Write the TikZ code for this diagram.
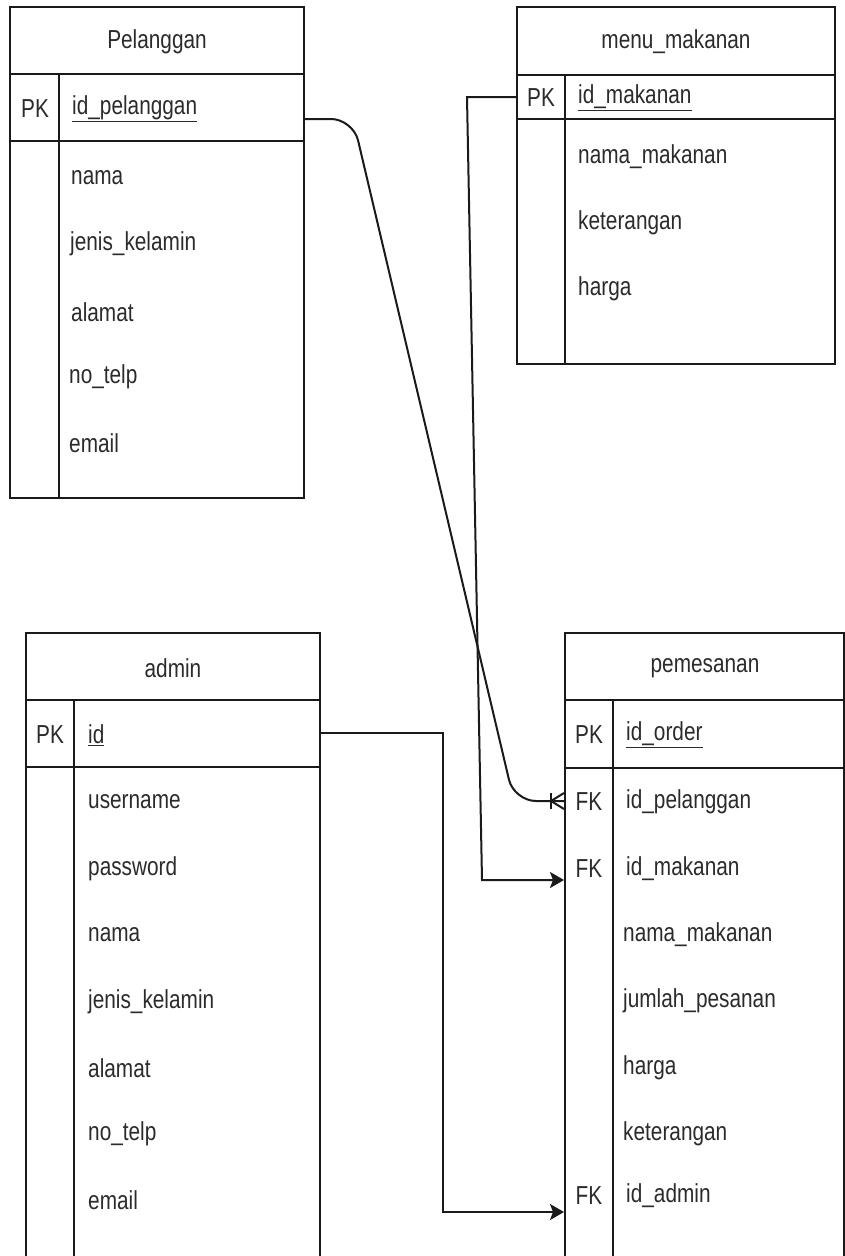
\documentclass[tikz,border=0pt]{standalone}
\usepackage{fontspec}
\setmainfont{Liberation Sans}[FakeStretch=0.8]
\usetikzlibrary{arrows.meta}
\definecolor{lnc}{HTML}{1A1A1A}
\definecolor{txc}{HTML}{2B2B2B}
\tikzset{
  tline/.style={draw=lnc, line width=2.2pt},
  conn/.style={draw=lnc, line width=2pt},
  arr/.style={-{Stealth[length=14pt,width=16pt,inset=3pt]}},
  lbl/.style={text=txc, font=\fontsize{26}{30}\selectfont, inner sep=0pt, anchor=west},
  ttl/.style={text=txc, font=\fontsize{26}{30}\selectfont, inner sep=0pt},
}
\begin{document}
\begin{tikzpicture}[x=1pt,y=-1pt]
\useasboundingbox (0,0) rectangle (845,1256);
\clip (0,0) rectangle (845,1256);
\fill[white] (0,0) rectangle (845,1256);

% ---------- Pelanggan ----------
\draw[tline] (10,7) rectangle (304,498);
\draw[tline] (10,74) -- (304,74);
\draw[tline] (10,141) -- (304,141);
\draw[tline] (59,74) -- (59,498);
\node[ttl] (pelT) at (157,42) {Pelanggan};
\node[ttl] (pelPK) at (35,109) {PK};
\node[lbl] (pelId) at (72,109) {\underline{id\_pelanggan}};
\node[lbl] (pel1) at (71,178) {nama};
\node[lbl] (pel2) at (70,244) {jenis\_kelamin};
\node[lbl] (pel3) at (71,312) {alamat};
\node[lbl] (pel4) at (69,377) {no\_telp};
\node[lbl] (pel5) at (69,443) {email};
\coordinate (pelOut) at (304,119);

% ---------- menu_makanan ----------
\draw[tline] (517,7) rectangle (835,364);
\draw[tline] (517,75) -- (835,75);
\draw[tline] (517,119) -- (835,119);
\draw[tline] (565,75) -- (565,364);
\node[ttl] (menT) at (676,42) {menu\_makanan};
\node[ttl] (menPK) at (541,98) {PK};
\node[lbl] (menId) at (578,98) {\underline{id\_makanan}};
\node[lbl] (men1) at (578,157) {nama\_makanan};
\node[lbl] (men2) at (578,223) {keterangan};
\node[lbl] (men3) at (578,289) {harga};
\coordinate (menOut) at (517,97);

% ---------- admin ----------
\draw[tline] (26,633) rectangle (320,1290);
\draw[tline] (26,700) -- (320,700);
\draw[tline] (26,767) -- (320,767);
\draw[tline] (74,700) -- (74,1290);
\node[ttl] (admT) at (173,668) {admin};
\node[ttl] (admPK) at (50,735) {PK};
\node[lbl] (admId) at (88,735) {\underline{id}};
\node[lbl] (adm1) at (88,802) {username};
\node[lbl] (adm2) at (88,869) {password};
\node[lbl] (adm3) at (88,935) {nama};
\node[lbl] (adm4) at (88,1002) {jenis\_kelamin};
\node[lbl] (adm5) at (88,1068) {alamat};
\node[lbl] (adm6) at (88,1134) {no\_telp};
\node[lbl] (adm7) at (88,1200) {email};
\coordinate (admOut) at (320,733);

% ---------- pemesanan ----------
\draw[tline] (565,633) rectangle (844,1290);
\draw[tline] (565,700) -- (844,700);
\draw[tline] (565,768) -- (844,768);
\draw[tline] (613,700) -- (613,1290);
\node[ttl] (pemT) at (705,668) {pemesanan};
\node[ttl] (pemPK) at (589,735) {PK};
\node[lbl] (pemId) at (626,735) {\underline{id\_order}};
\node[ttl] (pemFK1) at (589,802) {FK};
\node[lbl] (pem1) at (626,802) {id\_pelanggan};
\node[ttl] (pemFK2) at (589,869) {FK};
\node[lbl] (pem2) at (626,869) {id\_makanan};
\node[lbl] (pem3) at (623,935) {nama\_makanan};
\node[lbl] (pem4) at (623,1001) {jumlah\_pesanan};
\node[lbl] (pem5) at (623,1068) {harga};
\node[lbl] (pem6) at (623,1134) {keterangan};
\node[ttl] (pemFK3) at (589,1196) {FK};
\node[lbl] (pem7) at (626,1196) {id\_admin};
\coordinate (pemIn1) at (564,801);
\coordinate (pemIn2) at (564,880);
\coordinate (pemIn3) at (564,1212);

% ---------- connectors ----------
\coordinate (cA1) at (353,119);
\coordinate (cA2) at (514,801);
\coordinate (cfoot) at (551,801);
\draw[conn, rounded corners=22pt] (pelOut) -- (cA1) -- (cA2) -- (pemIn1);
\draw[conn] (cfoot) -- (564,793);
\draw[conn] (cfoot) -- (564,809);
\draw[conn] (551,793) -- (551,809);

\coordinate (cB1) at (467,97);
\coordinate (cB2) at (482,880);
\draw[conn, arr] (menOut) -- (cB1) -- (cB2) -- (pemIn2);

\coordinate (cC1) at (443,733);
\coordinate (cC2) at (443,1212);
\draw[conn, arr] (admOut) -- (cC1) -- (cC2) -- (pemIn3);
\end{tikzpicture}
\end{document}
